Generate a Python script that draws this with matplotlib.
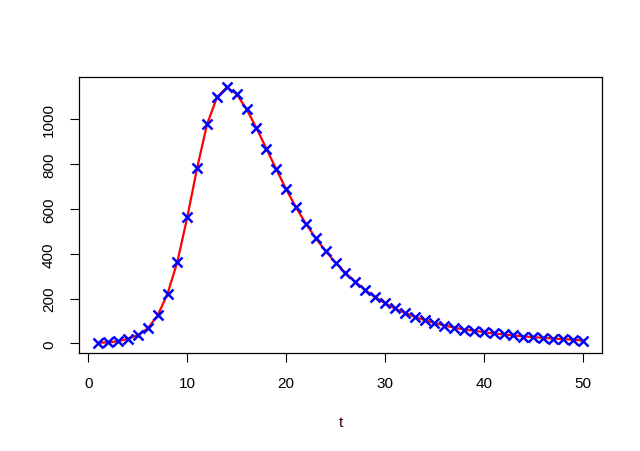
import matplotlib
matplotlib.use("Agg")
import matplotlib.pyplot as plt

plt.rcParams['font.family'] = ['Liberation Sans', 'DejaVu Sans']

t = list(range(1, 51))
y = [3, 5, 10, 21, 37, 67, 125, 222, 365, 564,
     784, 978, 1098, 1143, 1112, 1045, 960, 869, 777, 688,
     607, 534, 469, 412, 360, 315, 275, 238, 207, 180,
     156, 137, 119, 104, 92, 80, 71, 62, 57, 50,
     45, 40, 36, 31, 28, 25, 22, 19, 17, 13]
xticks = [0, 10, 20, 30, 40, 50]
yticks = [0, 200, 400, 600, 800, 1000]

fig = plt.figure(figsize=(6.4, 4.52), dpi=100)
ax = fig.add_axes([79/640, 1-354/452, (602-79)/640, (354-78)/452])

ax.plot(t, y, color='red', lw=1.6, zorder=2)
ax.plot(t, y, linestyle='none', marker='x', color='blue', markersize=7,
        markeredgewidth=1.8, zorder=3)

rng = max(t) - min(t)
ax.set_xlim(min(t) - 0.04*rng, max(t) + 0.04*rng)
yr = max(y) - min(y)
ax.set_ylim(min(y) - 0.04*yr, max(y) + 0.04*yr)

ax.set_xticks(xticks)
ax.set_yticks(yticks)
ax.set_yticklabels([str(v) for v in yticks], rotation=90, va='center')
ax.tick_params(direction='out', length=6.5, width=0.8, labelsize=11, pad=10)
for s in ax.spines.values():
    s.set_linewidth(0.9)
ax.set_xlabel('t', fontsize=11, labelpad=18, color='#3a0000')

fig.savefig('out.png', dpi=100)
